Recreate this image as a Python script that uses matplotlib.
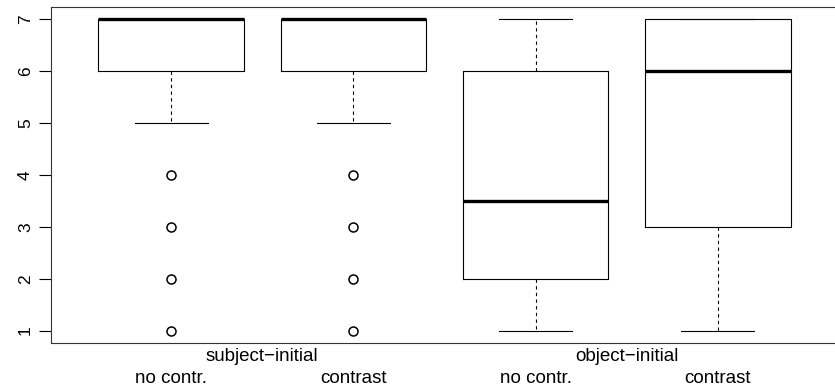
import matplotlib.pyplot as plt

plt.rcParams['font.family'] = ['Liberation Sans', 'DejaVu Sans']

# boxplot summaries
positions = [1, 2, 3, 4]
medians = [7, 7, 3.5, 6]
q1 = [6, 6, 2, 3]
q3 = [7, 7, 6, 7]
whis_lo = [5, 5, 1, 1]
whis_hi = [7, 7, 7, 7]
fliers = [[4, 3, 2, 1], [4, 3, 2, 1], [], []]

sub_labels = ["no contr.", "contrast", "no contr.", "contrast"]
group_labels = ["subject\u2212initial", "object\u2212initial"]
group_pos = [1.5, 3.5]
y_ticks = [1, 2, 3, 4, 5, 6, 7]

stats = []
for i in range(len(positions)):
    stats.append(dict(med=medians[i], q1=q1[i], q3=q3[i],
                      whislo=whis_lo[i], whishi=whis_hi[i],
                      fliers=fliers[i]))

fig = plt.figure(figsize=(8.35, 3.88), dpi=100)
ax = fig.add_axes([51 / 835, 45 / 388, 787 / 835, 336 / 388])

ax.bxp(stats, positions=positions, widths=0.8, patch_artist=False,
       boxprops=dict(color="black", linewidth=0.8),
       medianprops=dict(color="black", linewidth=2.4, solid_capstyle="butt"),
       whiskerprops=dict(color="black", linewidth=0.8, linestyle=(0, (3, 3))),
       capprops=dict(color="black", linewidth=0.8),
       capwidths=0.4,
       flierprops=dict(marker="o", markerfacecolor="none",
                       markeredgecolor="black", markersize=6.5,
                       markeredgewidth=1.1))

ax.set_xlim(0.34, 4.66)
ax.set_ylim(0.76, 7.24)
ax.set_yticks(y_ticks)
ax.set_yticklabels([str(v) for v in y_ticks], rotation=90, va="center",
                   fontsize=12.5)
ax.tick_params(axis="y", length=9, width=0.8, pad=4)
ax.set_xticks([])

for sp in ax.spines.values():
    sp.set_linewidth(0.8)
    sp.set_color("#333333")

tr = ax.get_xaxis_transform()
for x, lab in zip(group_pos, group_labels):
    ax.text(x, -0.04, lab, transform=tr, ha="center", va="center",
            fontsize=13.5)
for x, lab in zip(positions, sub_labels):
    ax.text(x, -0.105, lab, transform=tr, ha="center", va="center",
            fontsize=13.5)

fig.savefig("out.png", dpi=100)
